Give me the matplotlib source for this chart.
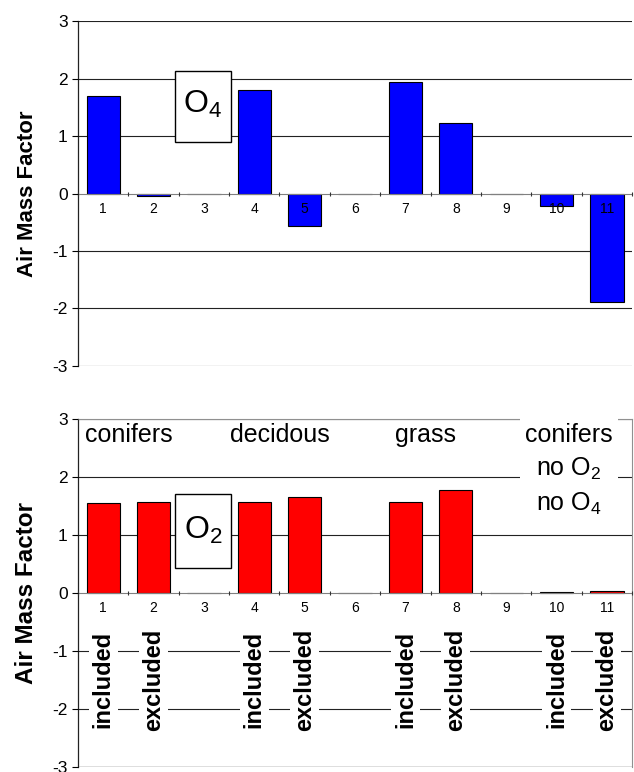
import matplotlib
matplotlib.use("Agg")
import matplotlib.pyplot as plt
from matplotlib.patches import Rectangle
import numpy as np

plt.rcParams['font.family'] = ['Liberation Sans', 'DejaVu Sans']
plt.rcParams['mathtext.fontset'] = 'custom'
plt.rcParams['mathtext.rm'] = 'Liberation Sans'
plt.rcParams['mathtext.default'] = 'regular'

# data
cases = ['1', '2', '3', '4', '5', '6', '7', '8', '9', '10', '11']
amf_o4 = [1.69, -0.05, 0.0, 1.80, -0.57, 0.0, 1.94, 1.23, 0.0, -0.21, -1.89]
amf_o2 = [1.55, 1.57, 0.0, 1.56, 1.65, 0.0, 1.57, 1.77, 0.0, 0.02, 0.035]
yticks = [-3, -2, -1, 0, 1, 2, 3]
surface_labels = ['conifers', 'decidous', 'grass']
surface_pos = [0.5, 3.5, 6.4]
mode_labels = ['included', 'excluded'] * 4
mode_pos = [0, 1, 3, 4, 6, 7, 9, 10]

x = np.arange(len(cases))

fig = plt.figure(figsize=(6.34, 7.72), dpi=100)
ax1 = fig.add_axes([0.123, 0.5263, 0.874, 0.4461])
ax2 = fig.add_axes([0.123, 0.0069, 0.874, 0.4504])


def setup(ax, vals, color, framed):
    # grid lines behind the bars, axis (tick labels) on top of them
    ax.set_axisbelow(False)
    for yv in yticks:
        if yv != 0:
            ax.axhline(yv, color='#222222', lw=0.8, zorder=0)
    ax.bar(x, vals, width=0.66, color=color, edgecolor='black', lw=0.8, zorder=2)
    ax.set_xlim(-0.5, len(cases) - 0.5)
    ax.set_ylim(-3, 3)
    ax.set_yticks(yticks)
    ax.set_yticklabels([str(v) for v in yticks], fontsize=12.5)
    ax.tick_params(axis='y', direction='out', length=4.5, width=0.8, pad=3)
    ax.set_xticks(x)
    ax.set_xticklabels(cases, fontsize=5.5, color='#333333')
    ax.set_xticks(np.arange(len(cases) + 1) - 0.5, minor=True)
    ax.tick_params(axis='x', which='major', length=0, pad=6)
    ax.tick_params(axis='x', which='minor', direction='inout', length=3.5, width=0.8, color='#333333')
    ax.spines['bottom'].set_position(('data', 0))
    ax.spines['bottom'].set_color('#808080')
    ax.spines['left'].set_color('#222222')
    ax.spines['left'].set_linewidth(0.9)
    if framed:
        ax.spines['top'].set_color('#909090')
        ax.spines['right'].set_color('#909090')
        ax.axhline(-3, color='#909090', lw=1.0, zorder=0)
    else:
        ax.spines['top'].set_visible(False)
        ax.spines['right'].set_visible(False)
    ax.patch.set_alpha(0)


setup(ax1, amf_o4, '#0000FF', False)
setup(ax2, amf_o2, '#FF0000', True)

ax1.set_ylabel('Air Mass Factor', fontsize=16, fontweight='bold', labelpad=10)
ax2.set_ylabel('Air Mass Factor', fontsize=17.5, fontweight='bold', labelpad=10)

# molecule boxes
ax1.add_patch(Rectangle((1.42, 0.90), 1.12, 1.24, facecolor='white', edgecolor='black', lw=1.0, zorder=4))
ax1.text(1.98, 1.55, 'O$_4$', fontsize=23, ha='center', va='center', zorder=5)
ax2.add_patch(Rectangle((1.42, 0.43), 1.12, 1.27, facecolor='white', edgecolor='black', lw=1.0, zorder=4))
ax2.text(1.98, 1.08, 'O$_2$', fontsize=23, ha='center', va='center', zorder=5)

# surface labels
for lab, px in zip(surface_labels, surface_pos):
    ax2.text(px, 2.72, lab, fontsize=18, ha='center', va='center', zorder=5)
ax2.text(9.25, 2.12, 'conifers\nno O$_2$\nno O$_4$', fontsize=18, ha='center', va='center',
         linespacing=1.45, zorder=5,
         bbox=dict(facecolor='white', edgecolor='none', pad=4))

# included / excluded labels
for lab, px in zip(mode_labels, mode_pos):
    ax2.text(px, -1.5, lab, fontsize=17, fontweight='bold', rotation=90,
             ha='center', va='center', zorder=5,
             bbox=dict(facecolor='white', edgecolor='none', pad=2))

fig.savefig('out.png', dpi=100)
